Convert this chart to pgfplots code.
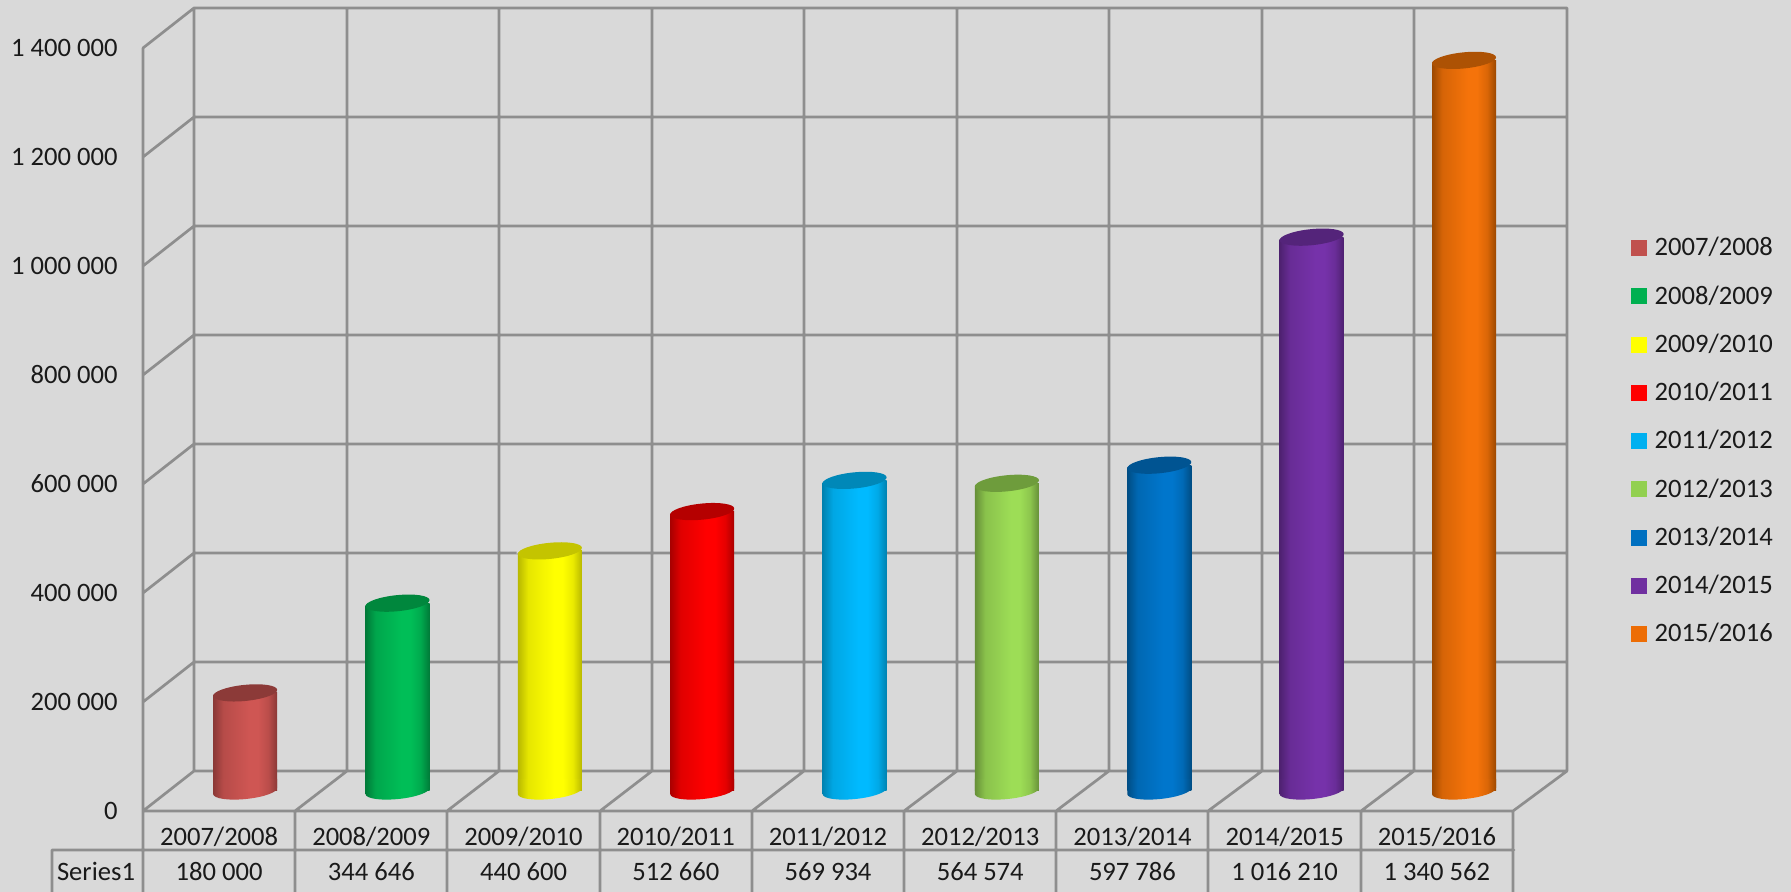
\documentclass[border=0pt]{standalone}
\usepackage{pgfplots}
\pgfplotsset{compat=1.18}
\usepackage{fontspec}
\setmainfont{Carlito}
\definecolor{bgcol}{HTML}{D9D9D9}
\definecolor{gridcol}{HTML}{8E8E8E}
\definecolor{txtcol}{HTML}{1A1A1A}
\newcommand{\lbl}{\fontsize{13.3}{17.5}\selectfont\color{txtcol}}
% a cylinder: side shading, bottom cap shaded the same, top cap flat and darker
\newcommand{\defcyl}[5]{%
  \definecolor{l#1}{HTML}{#2}\definecolor{d#1}{HTML}{#3}\definecolor{t#1}{HTML}{#4}\definecolor{g#1}{HTML}{#5}%
  \pgfdeclarehorizontalshading{cyl#1}{100bp}{color(0bp)=(d#1); color(25bp)=(d#1); color(33bp)=(l#1!65!d#1); color(53bp)=(l#1); color(60bp)=(l#1); color(68bp)=(l#1!70!d#1); color(75bp)=(d#1); color(100bp)=(d#1)}%
  \pgfdeclareplotmark{bot#1}{%
    \pgfpathellipse{\pgfpointorigin}{\pgfqpoint{16pt}{1.6pt}}{\pgfqpoint{-0.4pt}{4pt}}%
    \pgfpathmoveto{\pgfqpoint{-16pt}{-1.6pt}}\pgfpathlineto{\pgfqpoint{16pt}{1.6pt}}\pgfpathlineto{\pgfqpoint{16pt}{6pt}}\pgfpathlineto{\pgfqpoint{-16pt}{6pt}}\pgfpathclose
    \pgfshadepath{cyl#1}{0}\pgfusepath{discard}}%
  \pgfdeclareplotmark{top#1}{%
    \pgfpathmoveto{\pgfqpoint{-16.6pt}{-1.6pt}}\pgfpathlineto{\pgfqpoint{-16.6pt}{0.7pt}}\pgfpathlineto{\pgfqpoint{-14pt}{0.7pt}}\pgfpathclose
    \pgfsetfillcolor{bgcol}\pgfusepath{fill}%
    \pgfpathellipse{\pgfpointorigin}{\pgfqpoint{16pt}{1.6pt}}{\pgfqpoint{-0.4pt}{4pt}}\pgfsetfillcolor{t#1}\pgfusepath{fill}}%
}
\defcyl{A}{CF5653}{8A3836}{8C3A38}{C0504D}
\defcyl{B}{00BE57}{007A38}{00873D}{00B050}
\defcyl{C}{FFFF00}{B8B800}{C4C400}{FFFF00}
\defcyl{D}{FF0000}{A80000}{B50000}{FF0000}
\defcyl{E}{00BAFF}{0082B0}{0088B8}{00B0F0}
\defcyl{F}{9DDD56}{668F38}{6E9C3C}{92D050}
\defcyl{G}{0076CC}{004D84}{005492}{0070C0}
\defcyl{H}{7632AA}{4E2170}{54247A}{7030A0}
\defcyl{I}{F5730A}{9C4800}{AD5204}{ED6D05}
\newcommand{\cyl}[3]{%
  \addplot[only marks, mark=bot#1, forget plot] coordinates {(#2,0)};
  \addplot[ybar, bar width=32pt, bar shift=0pt, draw=none, shade, shading=cyl#1, forget plot] coordinates {(#2,#3)};
  \addplot[only marks, mark=top#1, forget plot] coordinates {(#2,#3)};
}
\newcommand{\legimg}[2]{%
  \addlegendimage{legend image code/.code={\fill[g#1] (0pt,-3.75pt) rectangle (7.5pt,3.75pt);}}
  \addlegendentry{#2}
}
\begin{document}
\begin{tikzpicture}
\useasboundingbox (0,0) rectangle (895.5pt,446pt);
% walls, floor and table rules, in the picture's pixel coordinates
\begin{axis}[at={(0pt,0pt)}, anchor=south west, scale only axis, width=895.5pt, height=446pt,
  xmin=0, xmax=1791, ymin=0, ymax=892, y dir=reverse,
  xtick=\empty, ytick=\empty, axis line style={draw=none},
  axis background/.style={fill=bgcol}, clip=true, unbounded coords=jump]
\addplot[gridcol, line width=1.35pt, line cap=round, line join=round] coordinates {
 (194,8)(194,771) (nan,nan) (347,8)(347,771) (nan,nan) (499,8)(499,771) (nan,nan)
 (652,8)(652,771) (nan,nan) (804,8)(804,771) (nan,nan) (957,8)(957,771) (nan,nan)
 (1109,8)(1109,771) (nan,nan) (1262,8)(1262,771) (nan,nan) (1414,8)(1414,771) (nan,nan)
 (1567,8)(1567,771) (nan,nan)
 (143,811)(194,771)(1567,771) (nan,nan)
 (143,702)(194,662)(1567,662) (nan,nan)
 (143,593)(194,553)(1567,553) (nan,nan)
 (143,484)(194,444)(1567,444) (nan,nan)
 (143,375)(194,335)(1567,335) (nan,nan)
 (143,266)(194,226)(1567,226) (nan,nan)
 (143,157)(194,117)(1567,117) (nan,nan)
 (143,48)(194,8)(1567,8) (nan,nan)
 (143,48)(143,892) (nan,nan)
 (143,811)(1513,811) (nan,nan)
 (52,850)(1514,850) (nan,nan)
 (52,850)(52,892) (nan,nan)
 (295,811)(347,771) (nan,nan) (447,811)(499,771) (nan,nan) (600,811)(652,771) (nan,nan)
 (752,811)(804,771) (nan,nan) (904,811)(957,771) (nan,nan) (1056,811)(1109,771) (nan,nan)
 (1208,811)(1262,771) (nan,nan) (1361,811)(1414,771) (nan,nan) (1513,811)(1567,771) (nan,nan)
 (295,811)(295,892) (nan,nan) (447,811)(447,892) (nan,nan) (600,811)(600,892) (nan,nan)
 (752,811)(752,892) (nan,nan) (904,811)(904,892) (nan,nan) (1056,811)(1056,892) (nan,nan)
 (1208,811)(1208,892) (nan,nan) (1361,811)(1361,892) (nan,nan) (1513,811)(1513,892)
};
\node[font=\lbl, anchor=center] at (axis cs:96,871) {Series1};
\end{axis}
% front plane: value and category labels
\begin{axis}[at={(71.5pt,40.5pt)}, anchor=south west, scale only axis, width=685pt, height=381.5pt,
  xmin=-0.5, xmax=8.5, ymin=0, ymax=1400000,
  axis line style={draw=none}, major tick style={draw=none}, major tick length=0pt,
  ytick={0,200000,400000,600000,800000,1000000,1200000,1400000},
  scaled y ticks=false,
  yticklabel style={font=\lbl, /pgf/number format/assume math mode=true,
     /pgf/number format/fixed, /pgf/number format/1000 sep={\ }, inner sep=0pt, xshift=-12.5pt, yshift=0.2pt},
  xtick={0,1,2,3,4,5,6,7,8},
  xticklabel style={font=\lbl, align=center, inner sep=0pt, yshift=-7.6pt},
  xticklabels={{2007/2008\\180 000},{2008/2009\\344 646},{2009/2010\\440 600},{2010/2011\\512 660},
    {2011/2012\\569 934},{2012/2013\\564 574},{2013/2014\\597 786},{2014/2015\\1 016 210},{2015/2016\\1 340 562}},
]
\addplot[draw=none, forget plot] coordinates {(0,0)};
\end{axis}
% bars stand on the middle of the floor
\begin{axis}[at={(84.5pt,50.5pt)}, anchor=south west, scale only axis, width=685.6pt, height=381.5pt,
  xmin=-0.5, xmax=8.5, ymin=0, ymax=1400000, clip=false,
  axis line style={draw=none}, xtick=\empty, ytick=\empty,
  legend cell align=left,
  legend style={at={(1.0665,0.7257)}, anchor=north west, draw=none, fill=none, inner sep=0pt, outer sep=0pt,
    font=\lbl, row sep=13.4pt, column sep=1.7pt, nodes={inner xsep=2pt, inner ysep=0pt}},
]
\cyl{A}{0}{180000}
\cyl{B}{1}{344646}
\cyl{C}{2}{440600}
\cyl{D}{3}{512660}
\cyl{E}{4}{569934}
\cyl{F}{5}{564574}
\cyl{G}{6}{597786}
\cyl{H}{7}{1016210}
\cyl{I}{8}{1340562}
\legimg{A}{2007/2008}
\legimg{B}{2008/2009}
\legimg{C}{2009/2010}
\legimg{D}{2010/2011}
\legimg{E}{2011/2012}
\legimg{F}{2012/2013}
\legimg{G}{2013/2014}
\legimg{H}{2014/2015}
\legimg{I}{2015/2016}
\end{axis}
\end{tikzpicture}
\end{document}
